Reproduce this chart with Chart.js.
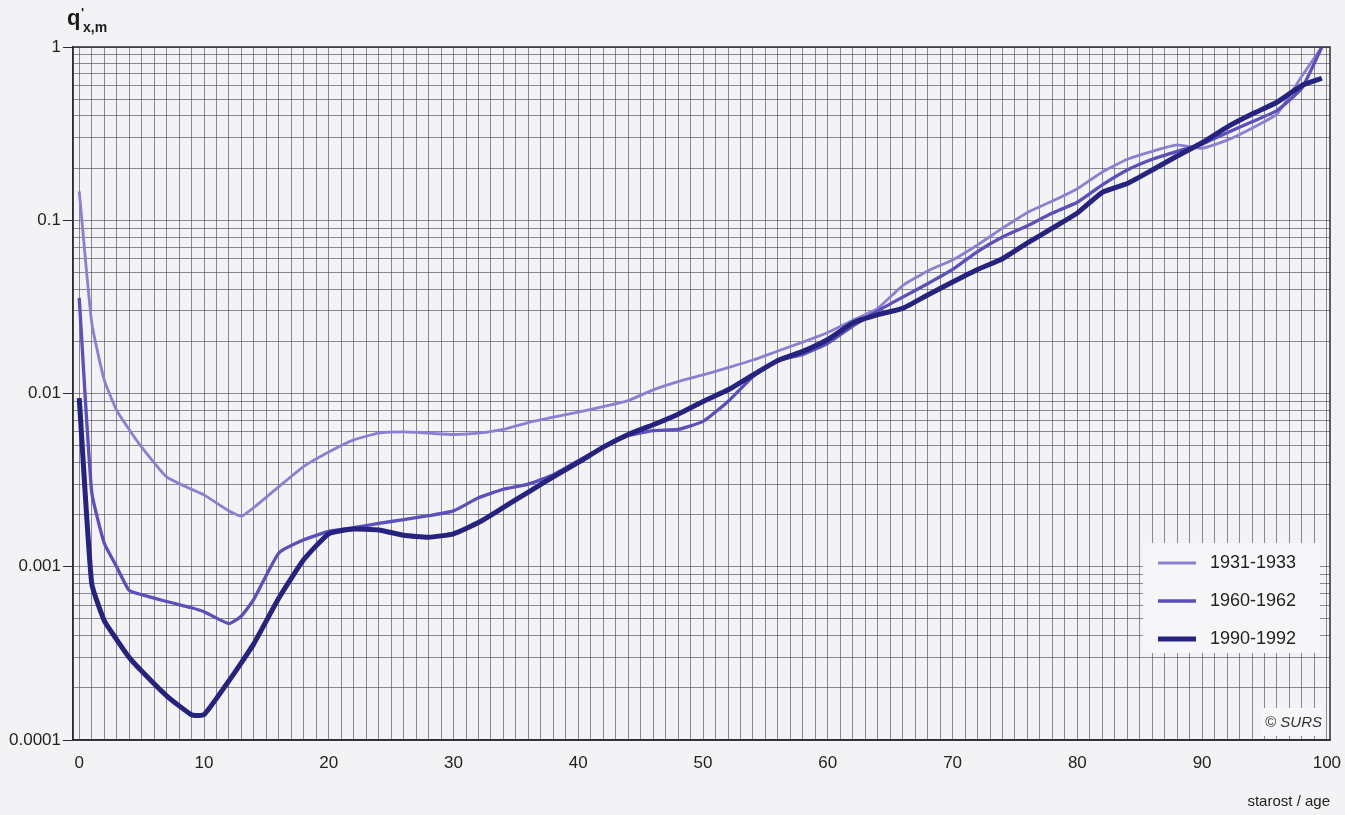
<!DOCTYPE html>
<html>
<head>
<meta charset="utf-8">
<script src="https://cdn.jsdelivr.net/npm/chart.js@4.4.1/dist/chart.umd.min.js"></script>
<style>
html, body { margin: 0; padding: 0; background: #f3f3f6; }
canvas { display: block; }
</style>
</head>
<body>
<canvas id="myChart" width="1345" height="815"></canvas>
<script>
// age groups
const ages = [0, 1, 2, 3, 4, 5, 7, 9, 10, 12, 13, 14, 16, 18, 20, 22, 24, 26, 28, 30,
  32, 34, 36, 38, 40, 42, 44, 46, 48, 50, 52, 54, 56, 58, 60, 62, 64, 66, 68, 70,
  72, 74, 76, 78, 80, 82, 84, 86, 88, 90, 92, 94, 96, 98, 99.6];

const q1931 = [0.147, 0.0256, 0.012, 0.008, 0.0062, 0.0049, 0.0033, 0.0028, 0.0026, 0.0021, 0.00196, 0.0022, 0.0029, 0.0038, 0.0046, 0.0054, 0.0059, 0.006, 0.0059, 0.0058,
  0.0059, 0.0062, 0.0068, 0.0073, 0.0078, 0.0084, 0.0091, 0.0105, 0.0117, 0.0128, 0.0141, 0.0156, 0.0176, 0.0198, 0.0225, 0.0265, 0.031, 0.042, 0.051, 0.059,
  0.072, 0.09, 0.111, 0.129, 0.152, 0.19, 0.225, 0.25, 0.272, 0.26, 0.29, 0.34, 0.41, 0.68, 1];

const q1960 = [0.0356, 0.0027, 0.00137, 0.001, 0.00073, 0.00069, 0.00063, 0.00058, 0.00055, 0.00047, 0.00052, 0.00065, 0.0012, 0.00143, 0.0016, 0.00168, 0.00178, 0.00187, 0.00197, 0.0021,
  0.0025, 0.0028, 0.003, 0.0034, 0.0041, 0.0049, 0.0057, 0.0061, 0.0062, 0.0069, 0.009, 0.0125, 0.0155, 0.0168, 0.0195, 0.0245, 0.03, 0.036, 0.043, 0.052,
  0.066, 0.08, 0.093, 0.11, 0.127, 0.16, 0.195, 0.225, 0.25, 0.275, 0.32, 0.37, 0.43, 0.58, 1];

const q1990 = [0.0094, 0.0008, 0.00049, 0.00038, 0.0003, 0.00025, 0.00018, 0.00014, 0.00014, 0.00022, 0.00028, 0.00036, 0.00066, 0.0011, 0.00155, 0.00165, 0.00163, 0.00152, 0.00148, 0.00155,
  0.0018, 0.0022, 0.0027, 0.0033, 0.004, 0.0049, 0.0058, 0.0066, 0.0076, 0.009, 0.0105, 0.0128, 0.0155, 0.0175, 0.0205, 0.0255, 0.0285, 0.031, 0.037, 0.044,
  0.052, 0.06, 0.074, 0.09, 0.11, 0.145, 0.163, 0.195, 0.235, 0.28, 0.345, 0.41, 0.48, 0.6, 0.66];

const seriesLabels = ['1931-1933', '1960-1962', '1990-1992'];
const yTickLabels = [0.0001, 0.001, 0.01, 0.1, 1];
const xTickLabels = [0, 10, 20, 30, 40, 50, 60, 70, 80, 90, 100];

const colors = ['#8a7fd2', '#5b4fbb', '#26227f'];
const widths = [2.8, 3.3, 5];
const font = "'Liberation Sans Narrow', 'Liberation Sans', Arial, sans-serif";

function toPoints(values) {
  return values.map((v, i) => ({ x: ages[i], y: v }));
}

const ctx = document.getElementById('myChart').getContext('2d');

const extras = {
  id: 'extras',
  afterDatasetsDraw(chart) {
    const c = chart.ctx;
    const a = chart.chartArea;
    c.save();
    // frame
    c.strokeStyle = '#2d2d35';
    c.lineWidth = 1.5;
    c.strokeRect(a.left, a.top, a.right - a.left, a.bottom - a.top);

    // legend box
    c.fillStyle = '#f6f6f8';
    c.fillRect(1143, 543, 177, 110);
    c.font = '18px ' + font;
    c.textBaseline = 'middle';
    seriesLabels.forEach((lbl, i) => {
      const y = 563 + i * 38;
      c.strokeStyle = colors[i];
      c.lineWidth = widths[i];
      c.beginPath();
      c.moveTo(1158, y);
      c.lineTo(1196, y);
      c.stroke();
      c.fillStyle = '#222';
      c.fillText(lbl, 1210, y);
    });

    // copyright
    c.fillStyle = '#f6f6f8';
    c.fillRect(1262, 708, 60, 28);
    c.fillStyle = '#333';
    c.font = 'italic 15px ' + font;
    c.textAlign = 'right';
    c.textBaseline = 'alphabetic';
    c.fillText('\u00a9 SURS', 1322, 727);

    // y axis title q'x,m
    c.textAlign = 'left';
    c.fillStyle = '#1a1a1a';
    c.font = 'bold 22px ' + font;
    c.fillText('q', 67, 25);
    c.font = 'bold 13px ' + font;
    c.fillText("'", 81, 17);
    c.font = 'bold 14px ' + font;
    c.fillText('x,m', 83, 32);
    c.restore();
  }
};

new Chart(ctx, {
  type: 'line',
  data: {
    datasets: [q1931, q1960, q1990].map((vals, i) => ({
      label: seriesLabels[i],
      data: toPoints(vals),
      borderColor: colors[i],
      borderWidth: widths[i],
      pointRadius: 0,
      tension: 0.15,
      fill: false,
      order: 3 - i
    }))
  },
  options: {
    responsive: false,
    animation: false,
    layout: { padding: { left: 0, top: 47, right: 15, bottom: 0 } },
    plugins: {
      legend: { display: false },
      tooltip: { enabled: false }
    },
    scales: {
      x: {
        type: 'linear',
        min: -0.5,
        max: 100.25,
        afterBuildTicks(scale) {
          const t = [];
          for (let v = 0; v <= 100; v++) t.push({ value: v });
          scale.ticks = t;
        },
        afterFit(scale) {
          scale.height = 75;
          scale.paddingLeft = 0;
          scale.paddingRight = 0;
        },
        grid: { color: 'rgba(70,70,85,0.62)', lineWidth: 1, drawTicks: false },
        border: { color: '#2d2d35', width: 1.5 },
        ticks: {
          autoSkip: false,
          maxRotation: 0,
          padding: 13,
          color: '#222',
          font: { family: font, size: 17 },
          callback: (v) => xTickLabels.includes(v) ? String(v) : ''
        },
        title: {
          display: true,
          text: 'starost / age',
          align: 'end',
          color: '#222',
          font: { family: font, size: 15 },
          padding: { top: 2, bottom: 4 }
        }
      },
      y: {
        type: 'logarithmic',
        min: 0.0001,
        max: 1,
        afterBuildTicks(scale) {
          const t = [];
          for (let e = -4; e < 0; e++) {
            for (let k = 1; k <= 9; k++) t.push({ value: Number((k * Math.pow(10, e)).toPrecision(3)) });
          }
          t.push({ value: 1 });
          scale.ticks = t;
        },
        afterFit(scale) { scale.width = 73; },
        grid: {
          color: 'rgba(70,70,85,0.62)',
          lineWidth: 1,
          tickLength: 10,
          tickColor: (c) => (c.tick && yTickLabels.includes(c.tick.value)) ? '#2d2d35' : 'rgba(0,0,0,0)'
        },
        border: { color: '#2d2d35', width: 1.5 },
        ticks: {
          autoSkip: false,
          padding: 2,
          color: '#222',
          font: { family: font, size: 17 },
          callback: (v) => yTickLabels.includes(v) ? String(v) : ''
        }
      }
    }
  },
  plugins: [extras]
});
</script>
</body>
</html>
